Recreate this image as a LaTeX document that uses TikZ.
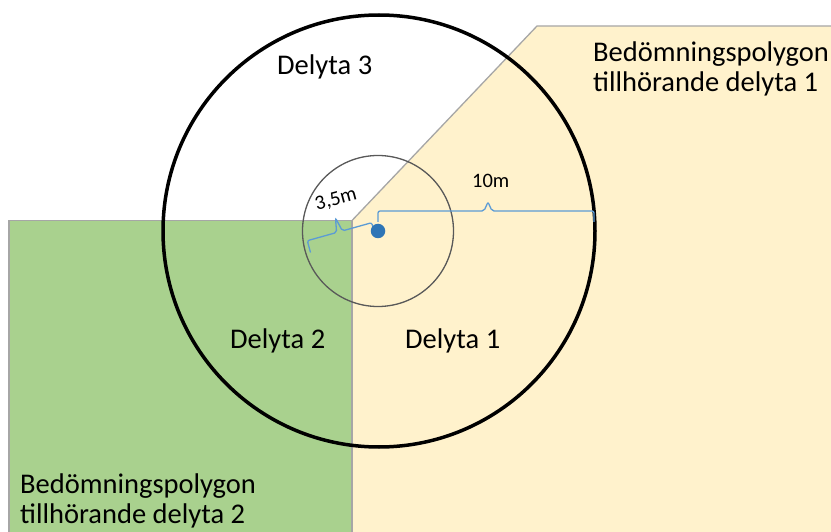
\documentclass[tikz,border=0pt]{standalone}
\usepackage{fontspec}
\setmainfont{Carlito}
\definecolor{greenfill}{HTML}{A9D18E}
\definecolor{yellowfill}{HTML}{FFF2CC}
\definecolor{edgegray}{HTML}{A6A6A6}
\definecolor{circgray}{HTML}{595959}
\definecolor{bracecol}{HTML}{5B9BD5}
\definecolor{dotcol}{HTML}{2E75B6}
\begin{document}
\begin{tikzpicture}[x=1pt,y=-1pt,
  bigtext/.style={font=\fontsize{28.5}{30}\selectfont, inner sep=0pt, anchor=base west},
  smalltext/.style={font=\fontsize{20.5}{22}\selectfont, inner sep=0pt},
  polyedge/.style={draw=edgegray, line width=1.3pt, line join=miter},
  bracestyle/.style={draw=bracecol, line width=1.3pt, rounded corners=2pt},
  ringbig/.style={circle, draw=black, line width=3.5pt, inner sep=0pt, minimum size=432pt},
  ringsmall/.style={circle, draw=circgray, line width=1.3pt, inner sep=0pt, minimum size=151pt},
  treedot/.style={circle, fill=dotcol, inner sep=0pt, minimum size=14.5pt}]
\useasboundingbox (0,0) rectangle (831,532);
\clip (0,0) rectangle (831,532);
% polygons
\path[polyedge, fill=yellowfill] (352,545) -- (352,220.5) -- (537,26) -- (845,26) -- (845,545) -- cycle;
\path[polyedge, fill=greenfill] (9,545) -- (9,220.5) -- (352,220.5) -- (352,545) -- cycle;
% circles
\node[ringbig] (outer) at (379,231) {};
\node[ringsmall] (inner) at (378,231) {};
% braces
\draw[bracestyle] (378,222) -- (378,211) -- (484,211) -- (488,202) -- (492,211) -- (594,211) -- (594,222);
\draw[bracestyle] (374.9,234.3) -- (371.7,222.7) -- (342.4,230.9) -- (335.5,218) -- (336.6,232.5) -- (307.3,240.7) -- (310.5,252.5);
\node[treedot] (tree) at (378,231) {};
% labels
\node[smalltext, anchor=base west] (l10) at (472,188) {10m};
\node[smalltext, rotate=15] (l35) at (336,200) {3,5m};
\node[bigtext] (d3) at (277,75) {Delyta 3};
\node[bigtext] (d2) at (230,348) {Delyta 2};
\node[bigtext] (d1) at (405,348) {Delyta 1};
\node[bigtext] (p1a) at (593,62) {Bedömningspolygon};
\node[bigtext] (p1b) at (593,92) {tillhörande delyta 1};
\node[bigtext] (p2a) at (20,493) {Bedömningspolygon};
\node[bigtext] (p2b) at (20,523) {tillhörande delyta 2};
\end{tikzpicture}
\end{document}
